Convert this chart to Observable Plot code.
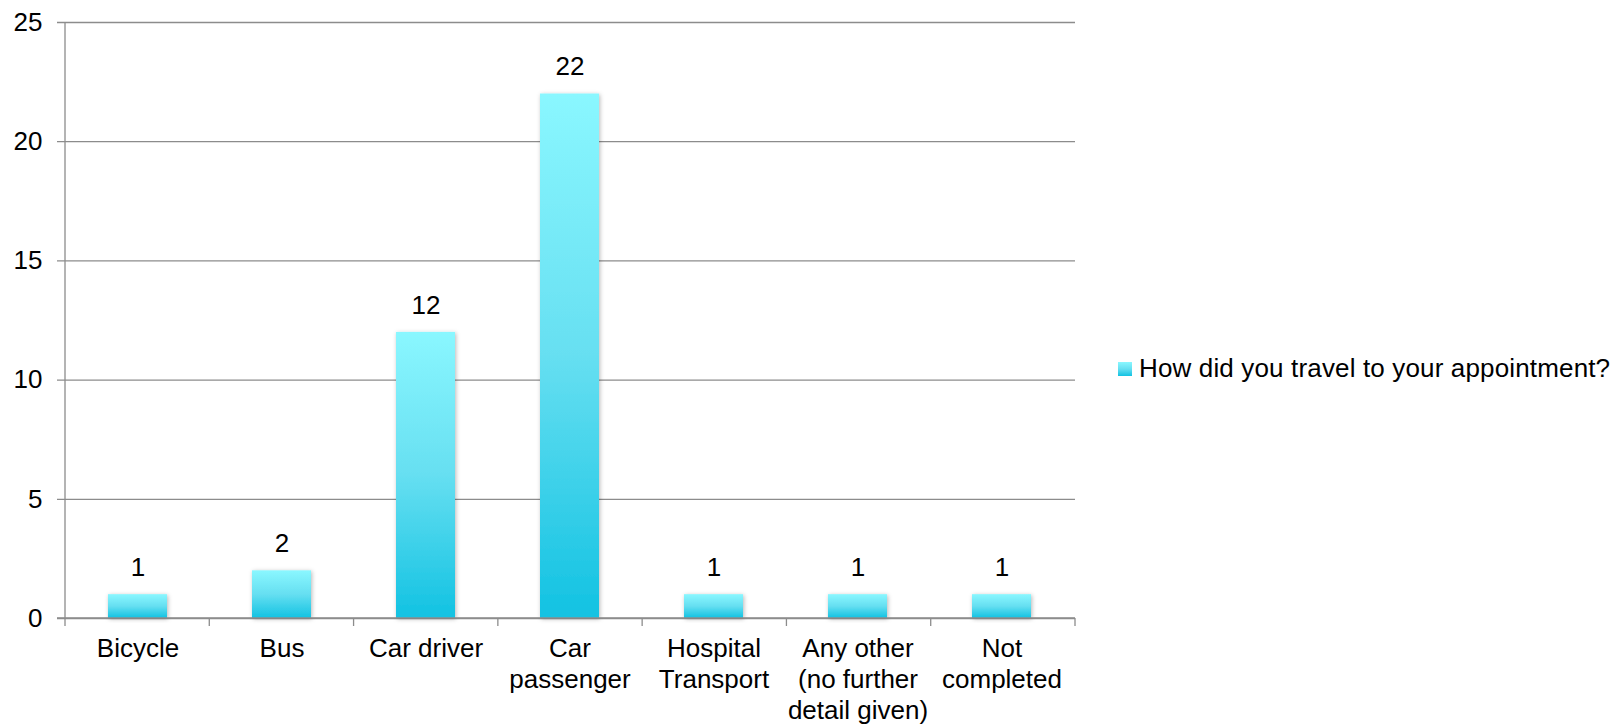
<!DOCTYPE html>
<html>
<head>
<meta charset="utf-8">
<script src="https://cdn.jsdelivr.net/npm/d3@7"></script>
<script src="https://cdn.jsdelivr.net/npm/@observablehq/plot@0.6"></script>
<style>
  html, body { margin: 0; padding: 0; background: #fff; }
  #wrap { position: relative; width: 1616px; height: 726px; font-family: "Liberation Sans", Arial, sans-serif; }
  #legend { position: absolute; left: 1118px; top: 353px; display: flex; align-items: center; font-size: 26px; letter-spacing: 0.15px; color: #000; white-space: nowrap; }
  #legend .sw { width: 14px; height: 14px; margin-right: 7px; background: linear-gradient(#8af7ff, #66dff1 50%, #12c2e2); }
</style>
</head>
<body>
<div id="wrap"></div>
<script>
// Survey answers: how respondents travelled to their appointment
const categories = ["Bicycle", "Bus", "Car driver", "Car passenger", "Hospital Transport", "Any other (no further detail given)", "Not completed"];
const tickLabels = ["Bicycle", "Bus", "Car driver", "Car\npassenger", "Hospital\nTransport", "Any other\n(no further\ndetail given)", "Not\ncompleted"];
const counts = [1, 2, 12, 22, 1, 1, 1];
const yTicks = [0, 5, 10, 15, 20, 25];
const seriesName = "How did you travel to your appointment?";

const data = categories.map((c, i) => ({category: c, count: counts[i]}));
const labelOf = new Map(categories.map((c, i) => [c, tickLabels[i]]));

// Gradient fill and soft shadow shared by every bar
const defs = () => {
  const ns = "http://www.w3.org/2000/svg";
  const d = document.createElementNS(ns, "defs");
  d.innerHTML = `
    <linearGradient id="barFill" x1="0" y1="0" x2="0" y2="1">
      <stop offset="0" stop-color="#8af7ff"/>
      <stop offset="0.5" stop-color="#66dff1"/>
      <stop offset="1" stop-color="#12c2e2"/>
    </linearGradient>
    <filter id="barShadow" x="-20%" y="-20%" width="140%" height="140%">
      <feDropShadow dx="1" dy="1" stdDeviation="2.2" flood-color="#000" flood-opacity="0.28"/>
    </filter>`;
  return d;
};

const chart = Plot.plot({
  width: 1616,
  height: 726,
  marginLeft: 65,
  marginRight: 541,
  marginTop: 22,
  marginBottom: 108,
  style: {fontFamily: "Liberation Sans, Arial, sans-serif", fontSize: "26px", color: "#000", background: "#fff"},
  x: {domain: categories, paddingInner: 0.59, paddingOuter: 0.295, label: null},
  y: {domain: [0, 25], label: null},
  marks: [
    defs,
    Plot.ruleY(yTicks, {stroke: "#8c8c8c", strokeWidth: 1.3, strokeOpacity: 1,
      // extend gridlines a tick length to the left of the axis
      render: (index, scales, values, dims, context, next) => {
        const g = next(index, scales, values, dims, context);
        g.querySelectorAll("line").forEach(l => l.setAttribute("x1", dims.marginLeft - 8));
        return g;
      }}),
    Plot.barY(data, {x: "category", y: "count", fill: "url(#barFill)"}),
    Plot.axisY({ticks: yTicks, tickSize: 0, tickPadding: 23, fontSize: 26, fill: "#000"}),
    Plot.axisX({tickSize: 0, tickPadding: 16, fontSize: 26, fill: "#000", lineHeight: 1.2,
      tickFormat: (d) => labelOf.get(d)}),
    Plot.text(data, {x: "category", y: "count", text: (d) => String(d.count), dy: -27, fontSize: 26, fill: "#000"})
  ]
});

// Axis lines and band-boundary ticks drawn in scale space
const svg = d3.select(chart);
const y = chart.scale("y");
const y0 = y.apply(0), yTop = y.apply(25);
const left = 65, right = 1616 - 541;
const step = (right - left) / categories.length;
// soft shadow on the bars
svg.selectAll("rect").filter(function () {
  return this.getAttribute("fill") === "url(#barFill)" || (this.parentNode && this.parentNode.getAttribute("fill") === "url(#barFill)");
}).attr("filter", "url(#barShadow)");
const axes = svg.append("g").attr("stroke", "#8c8c8c").attr("stroke-width", 1.3);
axes.append("line").attr("x1", left).attr("x2", left).attr("y1", yTop).attr("y2", y0);
for (let i = 0; i <= categories.length; i++) {
  const xx = left + i * step;
  axes.append("line").attr("x1", xx).attr("x2", xx).attr("y1", y0).attr("y2", y0 + 8);
}
axes.append("line").attr("x1", left - 8).attr("x2", right).attr("y1", y0).attr("y2", y0);

document.getElementById("wrap").appendChild(chart);
const legend = document.createElement("div");
legend.id = "legend";
legend.innerHTML = `<span class="sw"></span><span></span>`;
legend.lastChild.textContent = seriesName;
document.getElementById("wrap").appendChild(legend);
</script>
</body>
</html>
